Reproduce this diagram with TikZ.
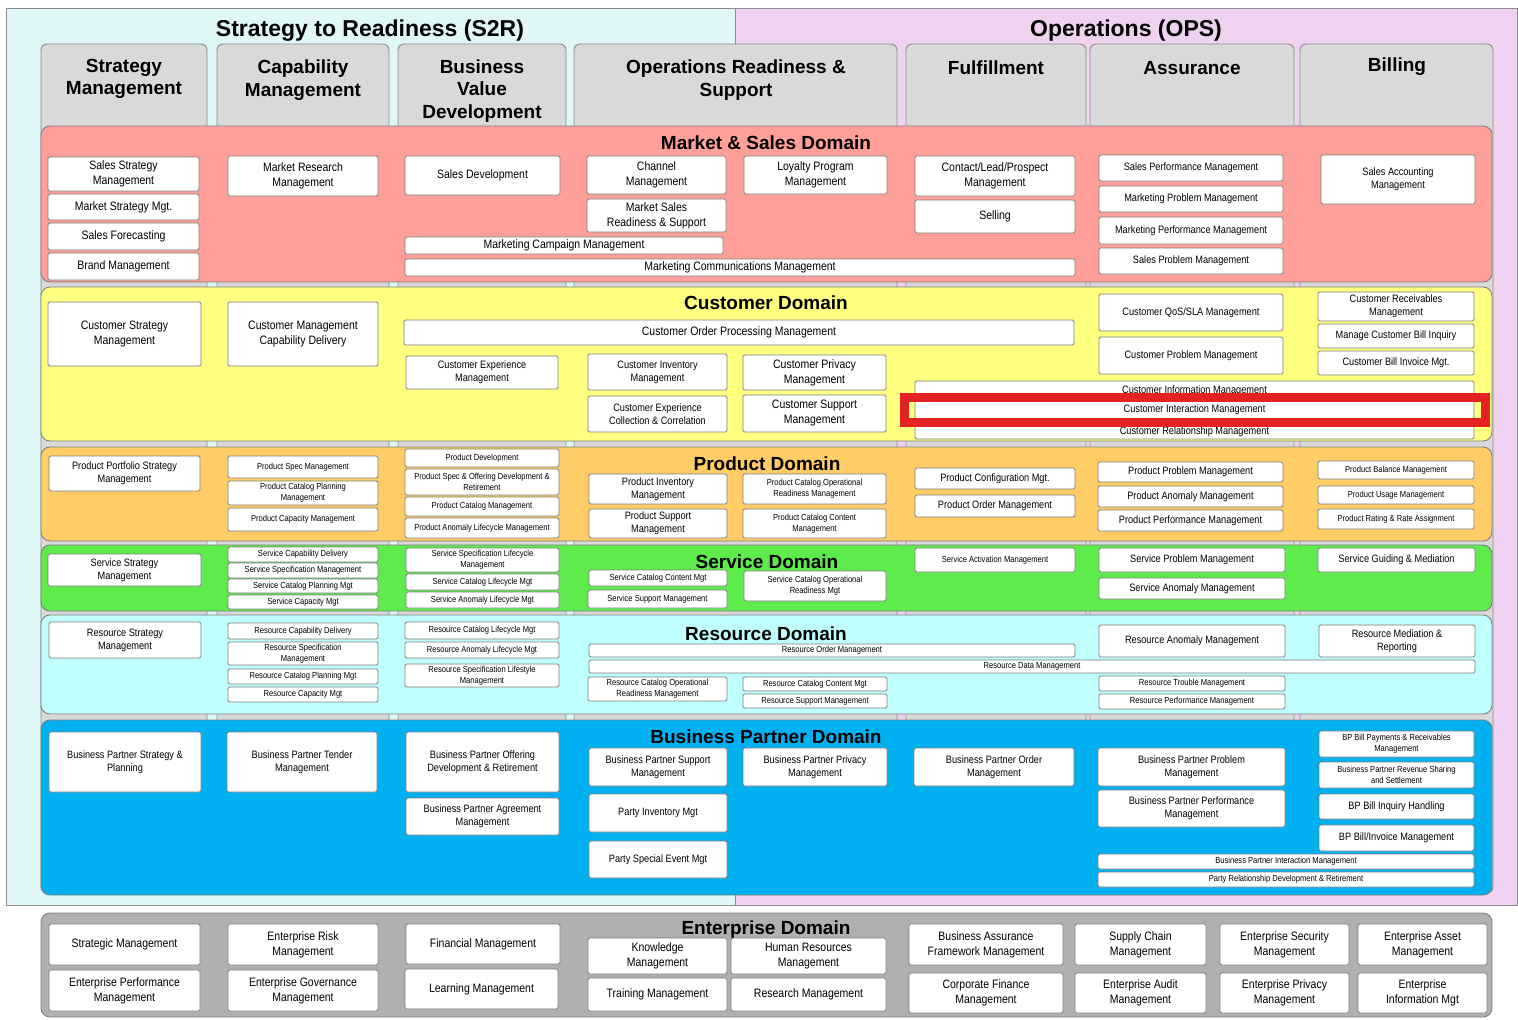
\documentclass[tikz,border=0pt]{standalone}
\usepackage{fontspec}
\setmainfont{Liberation Sans}
\newfontfamily\capfont{Liberation Sans}[FakeStretch=0.86]
\usepackage{tikz}
\definecolor{s2rbg}{HTML}{E0F7F8}
\definecolor{opsbg}{HTML}{EFD2EF}
\definecolor{frameline}{HTML}{8C8C8C}
\definecolor{tabgray}{HTML}{D9D9D9}
\definecolor{capline}{HTML}{7F7F7F}
\definecolor{mkt}{HTML}{FF9F99}
\definecolor{cust}{HTML}{FFFF80}
\definecolor{prod}{HTML}{FFCC66}
\definecolor{svc}{HTML}{5EEB4C}
\definecolor{res}{HTML}{C0FFFF}
\definecolor{bp}{HTML}{00B0F0}
\definecolor{ent}{HTML}{B0B0B0}
\definecolor{hired}{HTML}{E52222}
\tikzset{
  area/.style={draw=frameline, line width=0.9pt},
  arealab/.style={font=\bfseries\fontsize{23}{26}\selectfont},
  coltab/.style={fill=tabgray, draw=frameline, line width=0.9pt, rounded corners=6pt},
  tablab/.style={font=\bfseries\fontsize{19}{22.5}\selectfont, align=center},
  dombox/.style={draw=capline, line width=0.9pt, rounded corners=9pt},
  domlab/.style={font=\bfseries\fontsize{19}{22}\selectfont},
  abox/.style={draw=capline, fill=white, rounded corners=1.5pt, line width=0.8pt,
    inner sep=1pt, align=center, font=\capfont\fontsize{12.2}{15}\selectfont},
  smtxt/.style={font=\capfont\fontsize{10.7}{13}\selectfont},
  xstxt/.style={font=\capfont\fontsize{8.8}{10.6}\selectfont},
  hilite/.style={draw=hired, line width=9pt},
}
% [style]{name}{x1}{y1}{x2}{y2}{text}
\newcommand{\capbox}[7][]{%
  \pgfmathsetmacro\capw{#5-#3}\pgfmathsetmacro\caph{#6-#4}%
  \node[abox,#1,minimum width=\capw pt,minimum height=\caph pt] (#2) at ({(#3+#5)/2},{(#4+#6)/2}) {#7};}

\begin{document}
\begin{tikzpicture}[x=1pt,y=-1pt]
  \useasboundingbox (0,0) rectangle (1518,1020);
  \fill[white] (0,0) rectangle (1518,1020);
  \draw[area, fill=s2rbg] (6,8) rectangle (735,905);
  \draw[area, fill=opsbg] (735,8) rectangle (1517,905);
  \node[arealab] (s2r) at (370,31) {Strategy to Readiness (S2R)};
  \node[arealab] (ops) at (1126,31) {Operations (OPS)};

  \foreach \xa/\xb in {41/207,217/389,398/566,574/897,906/1086,1090/1294,1300/1493}
    \draw[coltab] (\xa,893) rectangle (\xb,44);
  \node[tablab] (hStrat) at (124,79) {Strategy\\Management};
  \node[tablab] (hCap) at (303,80) {Capability\\Management};
  \node[tablab] (hBvd) at (482,91) {Business\\Value\\Development};
  \node[tablab] (hOrs) at (736,80) {Operations Readiness \&\\Support};
  \node[tablab] (hFul) at (996,68) {Fulfillment};
  \node[tablab] (hAss) at (1192,68) {Assurance};
  \node[tablab] (hBil) at (1397,67) {Billing};

  \foreach \c/\ya/\yb in {mkt/126/282,cust/287/441,prod/447/541,svc/545/611,res/615/714,bp/720/895,ent/913/1017}
    \draw[dombox, fill=\c] (41,\ya) rectangle (1492,\yb);
  \node[domlab] (mktDom) at (766,142.5) {Market \& Sales Domain};
  \node[domlab] (custDom) at (766,302.5) {Customer Domain};
  \node[domlab] (prodDom) at (767,463.5) {Product Domain};
  \node[domlab] (svcDom) at (767,561.5) {Service Domain};
  \node[domlab] (resDom) at (766,633.5) {Resource Domain};
  \node[domlab] (bpDom) at (766,736.5) {Business Partner Domain};
  \node[domlab] (entDom) at (766,929.5) {Enterprise Domain};

  % market & sales
  \capbox{salesStrat}{48}{157}{199}{191}{Sales Strategy\\Management}
  \capbox{mktStrat}{48}{194}{199}{220}{Market Strategy Mgt.}
  \capbox{salesFcst}{48}{223}{199}{250}{Sales Forecasting}
  \capbox{brand}{48}{253}{199}{280}{Brand Management}
  \capbox{mktRes}{228}{156}{378}{196}{Market Research\\Management}
  \capbox{salesDev}{405}{156}{560}{195}{Sales Development}
  \capbox{mktCamp}{405}{237}{723}{254}{Marketing Campaign Management}
  \capbox{mktComm}{405}{259}{1075}{276}{Marketing Communications Management}
  \capbox{channel}{587}{156}{726}{194}{Channel\\Management}
  \capbox{mktReady}{587}{199}{726}{232}{Market Sales\\Readiness \& Support}
  \capbox{loyalty}{744}{156}{887}{194}{Loyalty Program\\Management}
  \capbox{contact}{915}{156}{1075}{196}{Contact/Lead/Prospect\\Management}
  \capbox{selling}{915}{200}{1075}{233}{Selling}
  \capbox[smtxt]{salesPerf}{1099}{155}{1283}{181}{Sales Performance Management}
  \capbox[smtxt]{mktProb}{1099}{186}{1283}{212}{Marketing Problem Management}
  \capbox[smtxt]{mktPerf}{1099}{217}{1283}{244}{Marketing Performance Management}
  \capbox[smtxt]{salesProb}{1099}{248}{1283}{274}{Sales Problem Management}
  \capbox[smtxt]{salesAcct}{1321}{155}{1475}{204}{Sales Accounting\\Management}

  % customer
  \capbox{custStrat}{48}{302}{201}{366}{Customer Strategy\\Management}
  \capbox{custCap}{228}{302}{378}{366}{Customer Management\\Capability Delivery}
  \capbox{custOrder}{404}{320}{1074}{345}{Customer Order Processing Management}
  \capbox[smtxt]{custExp}{406}{356}{558}{389}{Customer Experience\\Management}
  \capbox[smtxt]{custInv}{588}{354}{727}{390}{Customer Inventory\\Management}
  \capbox[smtxt]{custColl}{588}{396}{727}{432}{Customer Experience\\Collection \& Correlation}
  \capbox{custPriv}{743}{355}{886}{390}{Customer Privacy\\Management}
  \capbox{custSupp}{743}{395}{886}{432}{Customer Support\\Management}
  \capbox[smtxt]{custInfo}{915}{381}{1474}{400}{Customer Information Management}
  \capbox[smtxt, text height=13pt]{custRel}{915}{419}{1474}{439}{Customer Relationship Management}
  \capbox[smtxt]{custInt}{915}{400}{1474}{419}{Customer Interaction Management}
  \capbox[smtxt]{custQos}{1099}{294}{1283}{331}{Customer QoS/SLA Management}
  \capbox[smtxt]{custProb}{1099}{337}{1283}{374}{Customer Problem Management}
  \capbox[smtxt]{custRecv}{1318}{292}{1474}{321}{Customer Receivables\\Management}
  \capbox[smtxt]{custBillInq}{1318}{324}{1474}{348}{Manage Customer Bill Inquiry}
  \capbox[smtxt]{custBillInv}{1318}{351}{1474}{375}{Customer Bill Invoice Mgt.}

  % product
  \capbox[smtxt]{prodPort}{49}{456}{200}{491}{Product Portfolio Strategy\\Management}
  \capbox[xstxt]{prodSpec}{228}{456}{378}{478}{Product Spec Management}
  \capbox[xstxt]{prodCatPlan}{228}{481}{378}{505}{Product Catalog Planning\\Management}
  \capbox[xstxt]{prodCap}{228}{508}{378}{531}{Product Capacity Management}
  \capbox[xstxt]{prodDev}{405}{449}{559}{467}{Product Development}
  \capbox[xstxt]{prodOffer}{405}{469}{559}{495}{Product Spec \& Offering Development \&\\Retirement}
  \capbox[xstxt]{prodCat}{405}{497}{559}{516}{Product Catalog Management}
  \capbox[xstxt]{prodAnomLc}{405}{518}{559}{538}{Product Anomaly Lifecycle Management}
  \capbox[smtxt]{prodInv}{589}{474}{727}{504}{Product Inventory\\Management}
  \capbox[smtxt]{prodSupp}{589}{509}{727}{538}{Product Support\\Management}
  \capbox[xstxt]{prodCatOps}{743}{474}{886}{504}{Product Catalog Operational\\Readiness Management}
  \capbox[xstxt]{prodCatCont}{743}{509}{886}{538}{Product Catalog Content\\Management}
  \capbox[smtxt]{prodConf}{915}{468}{1075}{489}{Product Configuration Mgt.}
  \capbox[smtxt]{prodOrder}{915}{495}{1075}{517}{Product Order Management}
  \capbox[smtxt]{prodProb}{1098}{462}{1283}{482}{Product Problem Management}
  \capbox[smtxt]{prodAnom}{1098}{486}{1283}{507}{Product Anomaly Management}
  \capbox[smtxt]{prodPerf}{1098}{510}{1283}{531}{Product Performance Management}
  \capbox[xstxt]{prodBal}{1318}{461}{1474}{479}{Product Balance Management}
  \capbox[xstxt]{prodUsage}{1318}{486}{1474}{504}{Product Usage Management}
  \capbox[xstxt]{prodRate}{1318}{509}{1474}{529}{Product Rating \& Rate Assignment}

  % service
  \capbox[smtxt]{svcStrat}{48}{554}{201}{586}{Service Strategy\\Management}
  \capbox[xstxt]{svcCapDel}{228}{547}{378}{562}{Service Capability Delivery}
  \capbox[xstxt]{svcSpec}{228}{563}{378}{578}{Service Specification Management}
  \capbox[xstxt]{svcCatPlan}{228}{579}{378}{593}{Service Catalog Planning Mgt}
  \capbox[xstxt]{svcCap}{228}{595}{378}{609}{Service Capacity Mgt}
  \capbox[xstxt]{svcSpecLc}{406}{548}{559}{572}{Service Specification Lifecycle\\Management}
  \capbox[xstxt]{svcCatLc}{406}{574}{559}{590}{Service Catalog Lifecycle Mgt}
  \capbox[xstxt]{svcAnomLc}{406}{592}{559}{608}{Service Anomaly Lifecycle Mgt}
  \capbox[xstxt]{svcCatCont}{589}{570}{727}{586}{Service Catalog Content Mgt}
  \capbox[xstxt]{svcSupp}{588}{590}{727}{608}{Service Support Management}
  \capbox[xstxt]{svcCatOps}{744}{571}{886}{601}{Service Catalog Operational\\Readiness Mgt}
  \capbox[xstxt]{svcAct}{915}{548}{1075}{572}{Service Activation Management}
  \capbox[smtxt]{svcProb}{1099}{548}{1285}{572}{Service Problem Management}
  \capbox[smtxt]{svcAnom}{1099}{578}{1285}{599}{Service Anomaly Management}
  \capbox[smtxt]{svcGuide}{1318}{548}{1475}{572}{Service Guiding \& Mediation}

  % resource
  \capbox[smtxt]{resStrat}{49}{622}{201}{658}{Resource Strategy\\Management}
  \capbox[xstxt]{resCapDel}{228}{623}{378}{639}{Resource Capability Delivery}
  \capbox[xstxt]{resSpec}{228}{642}{378}{665}{Resource Specification\\Management}
  \capbox[xstxt]{resCatPlan}{228}{669}{378}{684}{Resource Catalog Planning Mgt}
  \capbox[xstxt]{resCap}{228}{687}{378}{702}{Resource Capacity Mgt}
  \capbox[xstxt]{resCatLc}{405}{622}{559}{639}{Resource Catalog Lifecycle Mgt}
  \capbox[xstxt]{resAnomLc}{405}{642}{559}{658}{Resource Anomaly Lifecycle Mgt}
  \capbox[xstxt]{resSpecLc}{405}{664}{559}{687}{Resource Specification Lifestyle\\Management}
  \capbox[xstxt]{resOrder}{589}{644}{1075}{657}{Resource Order Management}
  \capbox[xstxt]{resData}{589}{660}{1475}{673}{Resource Data Management}
  \capbox[xstxt]{resCatOps}{588}{677}{727}{701}{Resource Catalog Operational\\Readiness Management}
  \capbox[xstxt]{resCatCont}{743}{677}{887}{691}{Resource Catalog Content Mgt}
  \capbox[xstxt]{resSupp}{743}{694}{887}{708}{Resource Support Management}
  \capbox[smtxt]{resAnom}{1099}{625}{1285}{657}{Resource Anomaly Management}
  \capbox[smtxt]{resMed}{1319}{625}{1475}{657}{Resource Mediation \&\\Reporting}
  \capbox[xstxt]{resTrouble}{1099}{676}{1285}{691}{Resource Trouble Management}
  \capbox[xstxt]{resPerf}{1099}{694}{1285}{709}{Resource Performance Management}

  % business partner
  \capbox[smtxt]{bpStrat}{49}{732}{201}{792}{Business Partner Strategy \&\\Planning}
  \capbox[smtxt]{bpTender}{227}{732}{377}{792}{Business Partner Tender\\Management}
  \capbox[smtxt]{bpOffer}{406}{732}{559}{792}{Business Partner Offering\\Development \& Retirement}
  \capbox[smtxt]{bpAgree}{406}{798}{559}{835}{Business Partner Agreement\\Management}
  \capbox[smtxt]{bpSupp}{589}{748}{727}{786}{Business Partner Support\\Management}
  \capbox[smtxt]{partyInv}{589}{794}{727}{832}{Party Inventory Mgt}
  \capbox[smtxt]{partyEvent}{589}{841}{727}{878}{Party Special Event Mgt}
  \capbox[smtxt]{bpPriv}{743}{748}{887}{786}{Business Partner Privacy\\Management}
  \capbox[smtxt]{bpOrder}{914}{748}{1074}{786}{Business Partner Order\\Management}
  \capbox[smtxt]{bpProb}{1098}{748}{1285}{786}{Business Partner Problem\\Management}
  \capbox[smtxt]{bpPerf}{1098}{790}{1285}{827}{Business Partner Performance\\Management}
  \capbox[xstxt]{bpPay}{1319}{731}{1474}{757}{BP Bill Payments \& Receivables\\Management}
  \capbox[xstxt]{bpRev}{1319}{762}{1474}{788}{Business Partner Revenue Sharing\\and Settlement}
  \capbox[smtxt]{bpInq}{1319}{794}{1474}{819}{BP Bill Inquiry Handling}
  \capbox[smtxt]{bpInv}{1319}{825}{1474}{851}{BP Bill/Invoice Management}
  \capbox[xstxt]{bpInt}{1098}{854}{1474}{869}{Business Partner Interaction Management}
  \capbox[xstxt]{partyRel}{1098}{872}{1474}{887}{Party Relationship Development \& Retirement}

  % enterprise
  \capbox{strategic}{49}{924}{200}{965}{Strategic Management}
  \capbox{entPerf}{49}{970}{200}{1011}{Enterprise Performance\\Management}
  \capbox{entRisk}{228}{924}{378}{965}{Enterprise Risk\\Management}
  \capbox{entGov}{228}{970}{378}{1011}{Enterprise Governance\\Management}
  \capbox{finance}{406}{924}{560}{964}{Financial Management}
  \capbox{learning}{405}{969}{558}{1009}{Learning Management}
  \capbox{knowledge}{588}{938}{727}{974}{Knowledge\\Management}
  \capbox{training}{588}{978}{727}{1011}{Training Management}
  \capbox{hr}{731}{938}{886}{974}{Human Resources\\Management}
  \capbox{research}{731}{978}{886}{1011}{Research Management}
  \capbox{bizAssure}{909}{924}{1063}{965}{Business Assurance\\Framework Management}
  \capbox{corpFin}{909}{973}{1063}{1013}{Corporate Finance\\Management}
  \capbox{supply}{1075}{924}{1206}{965}{Supply Chain\\Management}
  \capbox{entAudit}{1075}{973}{1206}{1013}{Enterprise Audit\\Management}
  \capbox{entSec}{1220}{924}{1349}{965}{Enterprise Security\\Management}
  \capbox{entPriv}{1220}{973}{1349}{1013}{Enterprise Privacy\\Management}
  \capbox{entAsset}{1358}{924}{1487}{965}{Enterprise Asset\\Management}
  \capbox{entInfo}{1358}{973}{1487}{1013}{Enterprise\\Information Mgt}

  \draw[hilite] ([xshift=-10pt,yshift=2.5pt]custInt.north west) rectangle ([xshift=11pt,yshift=-3pt]custInt.south east);
\end{tikzpicture}
\end{document}
